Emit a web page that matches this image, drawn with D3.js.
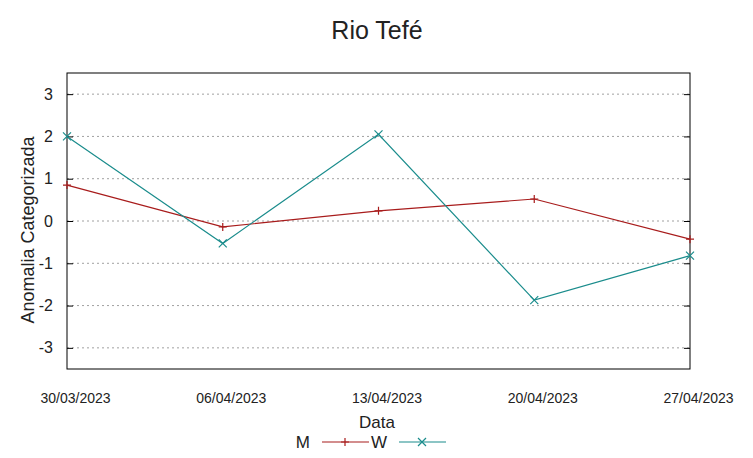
<!DOCTYPE html>
<html lang="en">
<head>
<meta charset="UTF-8" />
<title>Rio Tefé</title>
<style>
  body { margin: 0; background: #fff; }
  text { font-family: "Liberation Sans", Arial, sans-serif; fill: #222; }
</style>
</head>
<body>
<script src="https://cdn.jsdelivr.net/npm/d3@7"></script>
<div id="app"></div>
<script>
// Dados
const datas = ["30/03/2023", "06/04/2023", "13/04/2023", "20/04/2023", "27/04/2023"];
const serieM = [0.85, -0.14, 0.24, 0.52, -0.43];
const serieW = [2.0, -0.53, 2.05, -1.87, -0.82];
const yTicks = [-3, -2, -1, 0, 1, 2, 3];

const w = 753, h = 458;
const mLeft = 67, mRight = 690, mTop = 73, mBottom = 369;

const svg = d3.select("#app").append("svg")
  .attr("width", w).attr("height", h);

const x = d3.scalePoint().domain(datas).range([mLeft, mRight]);
const y = d3.scaleLinear().domain([-3.5, 3.5]).range([mBottom, mTop]);

// grid
svg.append("g").selectAll("line")
  .data(yTicks).enter().append("line")
  .attr("x1", mLeft).attr("x2", mRight)
  .attr("y1", d => y(d)).attr("y2", d => y(d))
  .attr("stroke", "#a0a0a0").attr("stroke-width", 1)
  .attr("stroke-dasharray", "2,3");

// eixo y
const yAxis = svg.append("g")
  .attr("transform", "translate(" + mLeft + ",0)")
  .call(d3.axisLeft(y).tickValues(yTicks).tickFormat(d => String(d)).tickSize(-6).tickPadding(14));
yAxis.select(".domain").remove();
yAxis.selectAll("text").style("font-size", "16px").attr("fill", "#222");

const yAxisR = svg.append("g")
  .attr("transform", "translate(" + mRight + ",0)")
  .call(d3.axisRight(y).tickValues(yTicks).tickSize(-6).tickFormat(""));
yAxisR.select(".domain").remove();

// eixo x
const xAxis = svg.append("g")
  .attr("transform", "translate(8," + mBottom + ")")
  .call(d3.axisBottom(x).tickSize(0).tickPadding(24));
xAxis.select(".domain").remove();
xAxis.selectAll("text").style("font-size", "14px").attr("fill", "#222");

// borda
svg.append("rect")
  .attr("x", mLeft).attr("y", mTop)
  .attr("width", mRight - mLeft).attr("height", mBottom - mTop)
  .attr("fill", "none").attr("stroke", "#000").attr("stroke-width", 1);

// linhas
const line = d3.line().x((d, i) => x(datas[i])).y(d => y(d));
const corM = "#a81c1c", corW = "#1a8c8c";

svg.append("path").datum(serieM)
  .attr("d", line).attr("fill", "none").attr("stroke", corM).attr("stroke-width", 1.2);
svg.append("path").datum(serieW)
  .attr("d", line).attr("fill", "none").attr("stroke", corW).attr("stroke-width", 1.2);

const s = 4;
svg.append("g").selectAll("path").data(serieM).enter().append("path")
  .attr("d", (d, i) => {
    const px = x(datas[i]), py = y(d);
    return "M" + (px - s) + "," + py + "H" + (px + s) + "M" + px + "," + (py - s) + "V" + (py + s);
  })
  .attr("stroke", corM).attr("stroke-width", 1.2);
svg.append("g").selectAll("path").data(serieW).enter().append("path")
  .attr("d", (d, i) => {
    const px = x(datas[i]), py = y(d);
    return "M" + (px - s) + "," + (py - s) + "L" + (px + s) + "," + (py + s) +
           "M" + (px - s) + "," + (py + s) + "L" + (px + s) + "," + (py - s);
  })
  .attr("stroke", corW).attr("stroke-width", 1.2);

// titulos
svg.append("text").attr("x", 377).attr("y", 39).attr("text-anchor", "middle")
  .style("font-size", "25px").text("Rio Tefé");
svg.append("text").attr("transform", "translate(34,230) rotate(-90)")
  .attr("text-anchor", "middle").style("font-size", "18px").text("Anomalia Categorizada");
svg.append("text").attr("x", 377).attr("y", 428).attr("text-anchor", "middle")
  .style("font-size", "17px").text("Data");

// legenda
const leg = [
  { nome: "M", cor: corM, x0: 322, tipo: "+" },
  { nome: "W", cor: corW, x0: 399, tipo: "x" }
];
const ly = 442;
leg.forEach(l => {
  svg.append("text").attr("x", l.x0 - 12).attr("y", ly + 6).attr("text-anchor", "end")
    .style("font-size", "17px").text(l.nome);
  svg.append("line").attr("x1", l.x0).attr("x2", l.x0 + 47)
    .attr("y1", ly).attr("y2", ly).attr("stroke", l.cor).attr("stroke-width", 1.2);
  const cx = l.x0 + 23;
  const d = l.tipo === "+"
    ? "M" + (cx - s) + "," + ly + "H" + (cx + s) + "M" + cx + "," + (ly - s) + "V" + (ly + s)
    : "M" + (cx - s) + "," + (ly - s) + "L" + (cx + s) + "," + (ly + s) + "M" + (cx - s) + "," + (ly + s) + "L" + (cx + s) + "," + (ly - s);
  svg.append("path").attr("d", d).attr("stroke", l.cor).attr("stroke-width", 1.2);
});
</script>
</body>
</html>
